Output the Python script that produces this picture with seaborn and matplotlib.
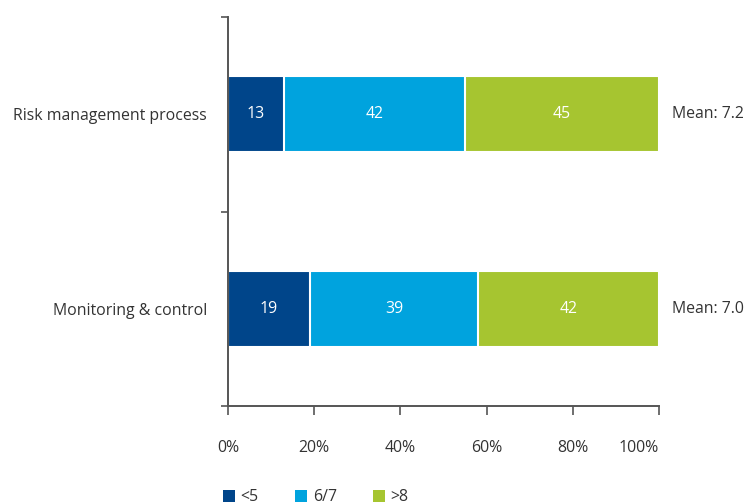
import matplotlib
matplotlib.use("Agg")
import matplotlib.pyplot as plt
from matplotlib.patches import Patch
import seaborn as sns
import pandas as pd
import numpy as np

categories = ["Risk management process", "Monitoring & control"]
groups = ["<5", "6/7", ">8"]
low = [13, 19]
mid = [42, 39]
high = [45, 42]
means = ["Mean: 7.2", "Mean: 7.0"]
xticks = [0, 20, 40, 60, 80, 100]
xtick_labels = ["0%", "20%", "40%", "60%", "80%", "100%"]
colors = ["#00458A", "#00A3DE", "#A6C530"]

sns.set_theme(style="white")
plt.rcParams["font.family"] = ["Open Sans", "DejaVu Sans"]
TXT = "#333333"
AX = "#555555"
FS = 11.4

df = pd.DataFrame({"category": categories, "<5": low, "6/7": mid, ">8": high})
segs = [df["<5"].values, df["6/7"].values, df[">8"].values]
cum = np.cumsum(np.vstack(segs), axis=0)

fig = plt.figure(figsize=(7.52, 5.04), dpi=100)
ax = fig.add_axes([228 / 752, 1 - 406 / 504, (659 - 228) / 752, (406 - 17) / 504])

# draw stacked bars: largest cumulative first, overlay smaller ones
for i in range(len(groups) - 1, -1, -1):
    d = pd.DataFrame({"category": categories, "value": cum[i]})
    sns.barplot(data=d, x="value", y="category", orient="h", color=colors[i],
                saturation=1, width=0.39, edgecolor="white", linewidth=1.5, ax=ax)

# value labels
for i in range(len(groups)):
    start = cum[i] - segs[i]
    for j, cat in enumerate(categories):
        ax.text(start[j] + segs[i][j] / 2, j, str(segs[i][j]), ha="center", va="center",
                color="white", fontsize=FS)

# mean labels
for j, m in enumerate(means):
    ax.text(103, j, m, ha="left", va="center", color=TXT, fontsize=FS, clip_on=False)

ax.set_xlim(0, 100)
ax.set_ylim(1.5, -0.5)
ax.set_xlabel("")
ax.set_ylabel("")
ax.set_xticks(xticks)
ax.set_xticklabels(xtick_labels, color=TXT, fontsize=FS)
labs = ax.get_xticklabels()
labs[-1].set_ha("right")
labs[-1].set_x(100)
ax.set_yticks([-0.5, 0.5, 1.5])
ax.set_yticklabels([])
ax.set_yticks([0, 1], categories, minor=True)
ax.tick_params(axis="y", which="minor", length=0, pad=15, labelsize=FS, labelcolor=TXT)
ax.tick_params(axis="y", which="major", length=5, width=1.2, color=AX, direction="out", left=True)
ax.tick_params(axis="x", length=6.5, width=1.2, color=AX, direction="out", pad=18, bottom=True)

for s in ["top", "right"]:
    ax.spines[s].set_visible(False)
for s in ["left", "bottom"]:
    ax.spines[s].set_color(AX)
    ax.spines[s].set_linewidth(1.4)
ax.grid(False)

handles = [Patch(facecolor=c, edgecolor="none") for c in colors]
fig.legend(handles, groups, loc="upper left", bbox_to_anchor=(209 / 752, 1 - 475 / 504),
           ncol=3, frameon=False, fontsize=FS, handlelength=0.75, handleheight=0.75,
           handletextpad=0.35, columnspacing=2.3, labelcolor=TXT)

fig.savefig("out.png", dpi=100)
